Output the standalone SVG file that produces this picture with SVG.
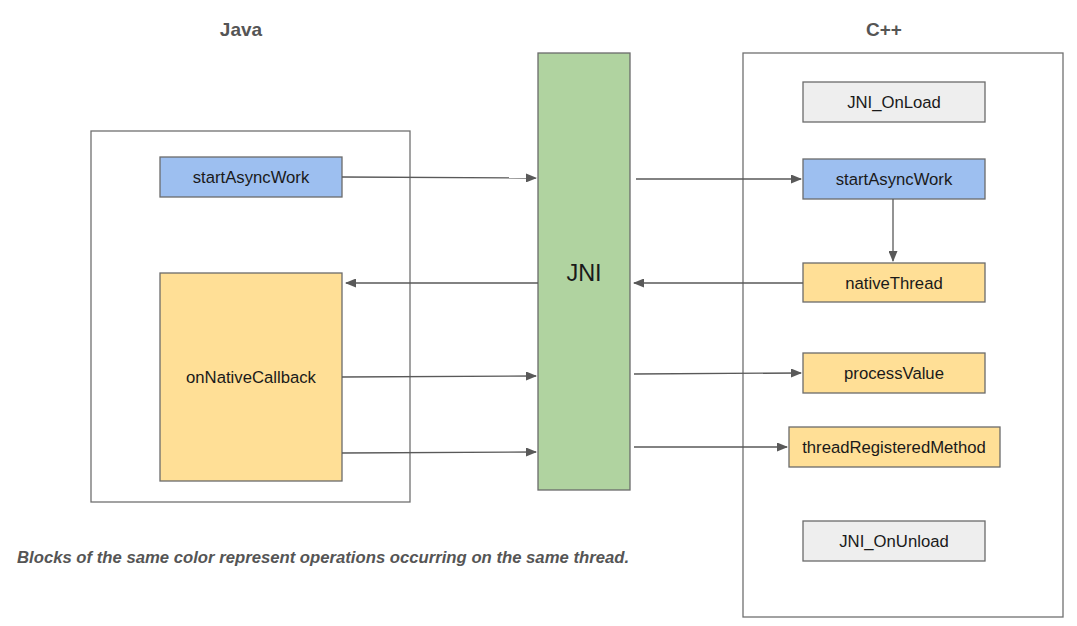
<svg xmlns="http://www.w3.org/2000/svg" width="1077" height="626" viewBox="0 0 1077 626">
<defs>
<style>
.frame{fill:#ffffff;stroke:#707070;stroke-width:1.3}
.box{stroke:#6b6b6b;stroke-width:1.3}
.blue{fill:#9dbff0}
.yellow{fill:#ffdf96}
.gray{fill:#eeeeee}
.green{fill:#b0d3a0}
.lbl{font-family:"Liberation Sans",Arial,sans-serif;font-size:16.7px;fill:#1a1a1a;text-anchor:middle;dominant-baseline:central}
.title{font-family:"Liberation Sans",Arial,sans-serif;font-size:19px;font-weight:bold;fill:#555555;text-anchor:middle}
.conn{stroke:#595959;stroke-width:1.3;fill:none;marker-end:url(#ah)}
</style>
<marker id="ah" markerWidth="11" markerHeight="9" refX="10" refY="4.5" orient="auto" markerUnits="userSpaceOnUse">
<path d="M0,0 L11,4.5 L0,9 Z" fill="#595959"/>
</marker>
</defs>
<rect width="1077" height="626" fill="#ffffff"/>
<text class="title" x="241" y="36">Java</text>
<text class="title" x="884" y="36">C++</text>
<g id="java-frame"><rect class="frame" x="91" y="131" width="319" height="371"/></g>
<g id="cpp-frame"><rect class="frame" x="743" y="53" width="320" height="564"/></g>
<g id="jni"><rect class="box green" x="538" y="53" width="92" height="437"/><text class="lbl" x="584" y="273" style="font-size:23.5px">JNI</text></g>
<g id="java-startAsyncWork"><rect class="box blue" x="160" y="157" width="182" height="40"/><text class="lbl" x="251" y="177">startAsyncWork</text></g>
<g id="onNativeCallback"><rect class="box yellow" x="160" y="273" width="182" height="208"/><text class="lbl" x="251" y="377">onNativeCallback</text></g>
<g id="JNI_OnLoad"><rect class="box gray" x="803" y="82" width="182" height="40"/><text class="lbl" x="894" y="102">JNI_OnLoad</text></g>
<g id="cpp-startAsyncWork"><rect class="box blue" x="803" y="159" width="182" height="40"/><text class="lbl" x="894" y="179">startAsyncWork</text></g>
<g id="nativeThread"><rect class="box yellow" x="803" y="263" width="182" height="39"/><text class="lbl" x="894" y="283">nativeThread</text></g>
<g id="processValue"><rect class="box yellow" x="803" y="353" width="182" height="40"/><text class="lbl" x="894" y="373">processValue</text></g>
<g id="threadRegisteredMethod"><rect class="box yellow" x="789" y="427" width="211" height="40"/><text class="lbl" x="894" y="447">threadRegisteredMethod</text></g>
<g id="JNI_OnUnload"><rect class="box gray" x="803" y="521" width="182" height="40"/><text class="lbl" x="894" y="541">JNI_OnUnload</text></g>
<g id="connectors">
<line class="conn" x1="342" y1="177" x2="536" y2="178"/>
<line class="conn" x1="538" y1="283" x2="346" y2="283"/>
<line class="conn" x1="342" y1="377" x2="536" y2="376"/>
<line class="conn" x1="342" y1="453" x2="536" y2="452"/>
<line class="conn" x1="636" y1="179" x2="801" y2="179"/>
<line class="conn" x1="803" y1="283" x2="634" y2="283"/>
<line class="conn" x1="634" y1="374" x2="801" y2="373"/>
<line class="conn" x1="634" y1="447" x2="787" y2="447"/>
<line class="conn" x1="893" y1="199" x2="893" y2="261"/>
</g>
<text x="17" y="563" style="font-family:'Liberation Sans',Arial,sans-serif;font-size:16.7px;font-weight:bold;font-style:italic;fill:#555555">Blocks of the same color represent operations occurring on the same thread.</text>
</svg>
